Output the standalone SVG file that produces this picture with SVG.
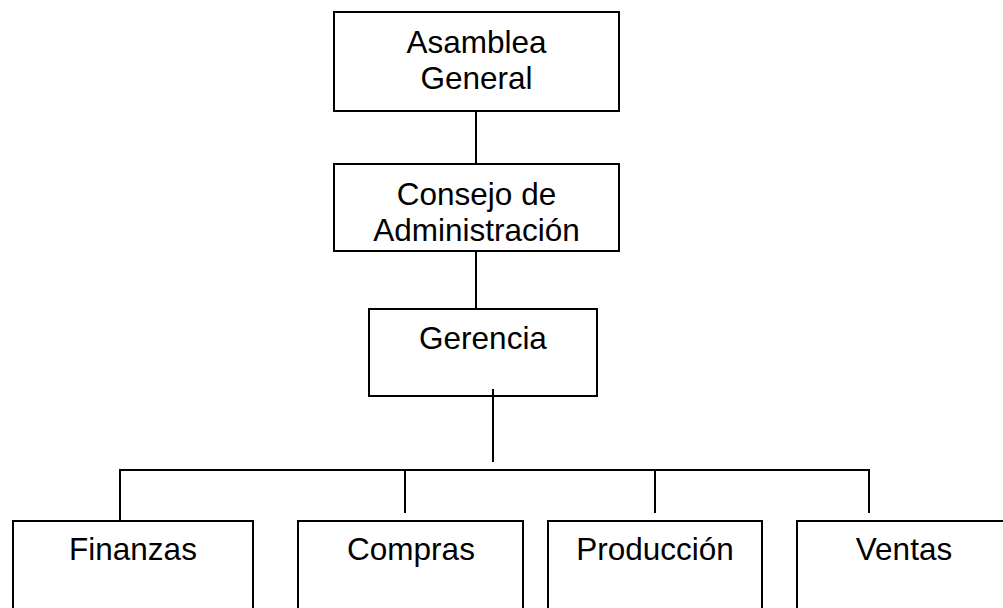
<svg xmlns="http://www.w3.org/2000/svg" width="1003" height="608" viewBox="0 0 1003 608">
<style>
.box{fill:#fff;stroke:#000;stroke-width:2}
.ln{stroke:#000;stroke-width:2;fill:none}
text{font-family:"Liberation Sans",Arial,sans-serif;font-size:31.5px;fill:#000;text-anchor:middle}
</style>
<rect width="1003" height="608" fill="#fff"/>
<g id="connectors">
<line class="ln" x1="476" y1="111" x2="476" y2="164"/>
<line class="ln" x1="476" y1="251" x2="476" y2="309"/>
<line class="ln" x1="493" y1="389" x2="493" y2="462"/>
<polyline class="ln" points="120,521 120,470 869,470 869,513"/>
<line class="ln" x1="405" y1="470" x2="405" y2="513"/>
<line class="ln" x1="655" y1="470" x2="655" y2="513"/>
</g>
<g id="asamblea">
<rect class="box" x="334" y="12" width="285" height="99"/>
<text x="476.5" y="53">Asamblea</text>
<text x="476.5" y="89">General</text>
</g>
<g id="consejo">
<rect class="box" x="334" y="164" width="285" height="87"/>
<text x="476.5" y="205">Consejo de</text>
<text x="476.5" y="241">Administración</text>
</g>
<g id="gerencia">
<rect class="box" x="369" y="309" width="228" height="87"/>
<line class="ln" x1="493" y1="389" x2="493" y2="396"/>
<text x="483" y="349">Gerencia</text>
</g>
<g id="finanzas">
<rect class="box" x="13" y="521" width="240" height="100"/>
<text x="133" y="560">Finanzas</text>
</g>
<g id="compras">
<rect class="box" x="298" y="521" width="225" height="100"/>
<text x="411" y="560">Compras</text>
</g>
<g id="produccion">
<rect class="box" x="548" y="521" width="214" height="100"/>
<text x="655" y="560">Producción</text>
</g>
<g id="ventas">
<rect class="box" x="797" y="521" width="215" height="100"/>
<text x="904" y="560">Ventas</text>
</g>
</svg>
